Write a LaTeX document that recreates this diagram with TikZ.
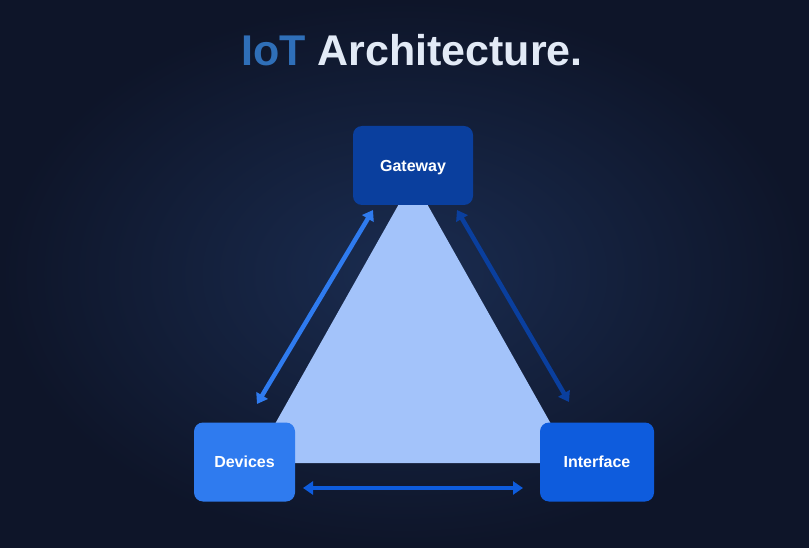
\documentclass[tikz,border=0pt]{standalone}
\usepackage{fontspec}
\setmainfont{Liberation Sans}
\usetikzlibrary{arrows.meta,shadings}
\definecolor{bgmid}{HTML}{1A2C50}
\definecolor{bgout}{HTML}{0E1529}
\definecolor{gatecol}{HTML}{0A3F9E}
\definecolor{devcol}{HTML}{2F7BEF}
\definecolor{intcol}{HTML}{0E5CDD}
\definecolor{tricol}{HTML}{A3C3FA}
\definecolor{iotcol}{HTML}{2F6FB8}
\definecolor{titcol}{HTML}{E2EAF6}
\tikzset{
  box/.style={rounded corners=9pt, minimum width=#1, minimum height=79pt, text=white, font=\fontsize{16}{18}\selectfont\bfseries},
  link/.style={line width=4.5pt, {Triangle[length=10pt,width=13pt]}-{Triangle[length=10pt,width=13pt]}}
}
\begin{document}
\begin{tikzpicture}[x=1pt,y=-1pt]
  \shade[inner color=bgmid, outer color=bgout] (0,0) rectangle (809,548);
  \useasboundingbox (0,0) rectangle (809,548);
  % title
  \node (title) at (412,50) {\fontsize{43}{50}\selectfont\bfseries\textcolor{iotcol}{IoT} \textcolor{titcol}{Architecture.}};
  % triangle behind the boxes
  \fill[tricol] (413,179) -- (253,463) -- (573,463) -- cycle;
  % boxes
  \node[box=120pt, fill=gatecol, text depth=0pt, yshift=-3pt] (gateway) at (413,162.5) {Gateway};
  \node[box=101pt, fill=devcol, yshift=-2pt] (devices) at (244.5,460) {Devices};
  \node[box=114pt, fill=intcol, yshift=-2pt] (interface) at (597,460) {Interface};
  % links
  \coordinate (dl) at (257,404);
  \coordinate (gl) at (373,210);
  \coordinate (gr) at (457,210);
  \coordinate (ir) at (569,402);
  \coordinate (db) at (303,488);
  \coordinate (ib) at (523,488);
  \draw[link, devcol] (dl) -- (gl);
  \draw[link, gatecol] (gr) -- (ir);
  \draw[link, intcol] (db) -- (ib);
\end{tikzpicture}
\end{document}
